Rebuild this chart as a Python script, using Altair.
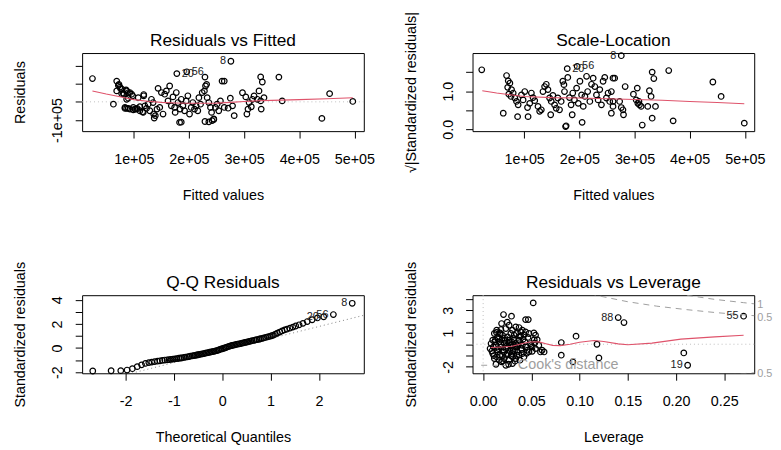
import altair as alt
import pandas as pd

FONT = "Liberation Sans"
RED = "#DF536B"
DOTGRAY = "#BEBEBE"
QQGRAY = "#808080"
COOK = "#9E9E9E"
W, H = 285, 79

# ---------------- Residuals vs Fitted (values in units of 1e+05) ----------------
rvf_fitted = [0.25, 0.63, 0.69, 0.73, 0.75, 0.79, 0.87, 0.82, 0.93, 0.98, 0.90, 0.78, 0.84, 0.87, 0.93,
              0.99, 1.05, 1.08, 1.11, 1.16, 1.18, 1.20, 1.23, 1.26, 1.29, 1.32, 1.35, 1.36, 1.39, 1.42,
              1.44, 1.47, 1.50, 1.53, 1.56, 1.59, 1.62, 1.65, 1.68, 1.71, 1.74, 1.75, 1.77, 1.78, 1.80,
              1.83, 1.84, 1.86, 1.89, 1.92, 1.96, 1.95, 1.98, 2.01, 2.04, 2.07, 2.10, 2.13, 2.16, 2.18,
              2.21, 2.24, 2.28, 2.29, 2.30, 2.32, 2.33, 2.36, 2.39, 2.41, 2.42, 2.45, 2.48, 2.51, 2.54,
              2.57, 2.60, 0.72, 0.76, 0.69, 0.81, 0.86, 0.90, 0.96, 0.87, 0.84, 0.90, 0.99, 1.02, 1.06,
              1.11, 1.17, 1.18, 1.86, 2.29, 2.36, 2.45, 1.37, 2.76, 2.64, 2.75, 2.82, 2.71, 2.64, 2.79,
              2.97, 3.03, 3.05, 3.07, 3.09, 3.13, 3.15, 3.18, 3.24, 3.27, 3.30, 3.33, 3.30, 3.31, 3.36,
              3.63, 3.69, 4.41, 4.55, 4.97]
rvf_resid = [1.28, -0.13, 1.14, 0.96, 0.81, 0.69, 0.60, 0.42, 0.51, 0.33, 0.20, 0.45, -0.31, -0.36, -0.40,
             -0.31, -0.40, 0.23, -0.27, -0.55, 0.33, -0.22, -0.36, -0.13, -0.49, 0.14, -0.04, -0.67, -0.76, -0.40,
             0.74, -0.31, 0.51, -0.67, 0.42, 0.60, 0.05, 0.87, -0.22, 0.27, -0.31, -0.58, 0.51, 1.55, -0.04,
             -1.13, -0.40, 0.14, -0.22, -0.49, 1.65, 0.05, 0.33, -0.67, -0.31, -0.04, -0.40, -0.22, -0.49, 0.23,
             -0.13, 0.51, 0.60, 1.36, 0.87, 0.96, 0.23, -0.04, -0.31, -0.58, -1.03, -0.94, -0.31, -0.13, -0.49,
             0.05, 1.14, 0.90, 0.72, 0.60, 0.47, 0.65, 0.51, 0.42, 0.14, -0.36, -0.36, -0.44, -0.40, -0.36,
             -0.49, -0.58, 0.40, -1.12, -1.08, -1.10, -0.97, -0.89, 2.23, 1.14, 0.20, -0.76, -0.35, -0.31, -0.22,
             0.50, 0.27, -0.67, -0.40, -0.04, -0.27, 0.14, 0.32, 0.14, 0.60, 1.37, 1.09, 0.05, -0.40, 0.23,
             1.36, 0.05, -0.91, 0.45, 0.02]
rvf_smooth_x = [0.25, 0.5, 0.75, 1.0, 1.25, 1.5, 1.75, 2.0, 2.25, 2.5, 2.75, 3.0, 3.25, 3.5, 4.0, 4.5, 4.97]
rvf_smooth_y = [0.60, 0.43, 0.28, 0.12, 0.03, -0.03, -0.06, -0.08, -0.08, -0.07, -0.03, 0.02, 0.06, 0.08, 0.12, 0.17, 0.22]
rvf_lab_x = [1.78, 1.96, 2.76]
rvf_lab_y = [1.55, 1.65, 2.23]
rvf_lab_t = ["20", "56", "8"]
rvf_lab_side = ["right", "right", "left"]

# ---------------- Scale-Location ----------------
sl_fitted = [0.23, 0.62, 0.68, 0.71, 0.74, 0.70, 0.77, 0.80, 0.83, 0.76, 0.72, 0.86, 0.89, 0.95, 0.98,
             1.01, 1.06, 1.07, 1.10, 1.13, 1.16, 1.19, 1.25, 1.28, 1.31, 1.34, 1.37, 1.40, 1.43, 1.46,
             1.49, 1.52, 1.55, 1.58, 1.61, 1.64, 1.67, 1.70, 1.72, 1.73, 1.75, 1.76, 1.78, 1.79, 1.82,
             1.85, 1.87, 1.88, 1.91, 1.95, 1.98, 2.01, 2.04, 2.07, 2.10, 2.13, 2.15, 2.19, 2.22, 2.25,
             2.28, 2.31, 2.34, 2.37, 2.40, 2.43, 2.46, 2.49, 2.52, 2.55, 2.58, 2.61, 1.96, 2.76, 2.05,
             2.64, 2.83, 2.58, 2.98, 3.05, 3.03, 3.06, 3.09, 3.12, 3.08, 2.61, 2.73, 2.76, 2.79, 2.80,
             2.61, 3.14, 3.24, 3.27, 3.30, 3.32, 3.35, 3.32, 3.38, 3.62, 3.70, 4.42, 4.57, 4.99, 0.88, 1.48]
sl_sqrt = [1.56, 0.42, 1.41, 1.27, 1.21, 1.10, 1.04, 0.95, 0.82, 0.86, 0.92, 0.73, 0.64, 0.90, 0.77,
           0.99, 0.57, 0.33, 0.68, 0.95, 0.83, 0.75, 0.60, 0.47, 0.51, 0.99, 1.12, 1.18, 1.04, 0.82,
           0.73, 0.89, 0.64, 0.55, 0.82, 0.51, 0.73, 1.26, 1.17, 0.99, 0.07, 0.09, 1.59, 1.36, 0.83,
           0.64, 0.38, 0.95, 0.77, 1.08, 0.68, 1.26, 0.90, 0.60, 0.86, 1.39, 0.99, 0.73, 1.18, 1.34,
           1.12, 0.90, 0.77, 1.04, 0.64, 1.26, 1.36, 0.82, 0.95, 0.73, 0.42, 1.34, 1.65, 1.93, 0.18,
           1.34, 1.12, 0.99, 0.92, 1.08, 0.77, 0.68, 0.64, 0.60, 0.73, 0.73, 0.73, 0.57, 0.51, 0.38,
           0.60, 0.11, 0.60, 1.01, 0.86, 1.50, 1.33, 0.29, 0.60, 1.54, 0.22, 1.24, 0.86, 0.16, 0.33, 0.38]
sl_smooth_x = [0.24, 0.5, 1.0, 1.5, 2.0, 2.5, 3.0, 3.5, 4.0, 4.5, 4.99]
sl_smooth_y = [1.01, 0.95, 0.86, 0.83, 0.82, 0.80, 0.78, 0.76, 0.73, 0.70, 0.67]
sl_lab_x = [1.78, 1.96, 2.76]
sl_lab_y = [1.59, 1.65, 1.93]
sl_lab_t = ["20", "56", "8"]
sl_lab_side = ["right", "right", "left"]

# ---------------- Q-Q Residuals ----------------
qq_theoretical = [-2.68, -2.30, -2.10, -1.97, -1.86, -1.76, -1.67, -1.59, -1.52, -1.46, -1.40, -1.34, -1.29,
                  -1.24, -1.19, -1.14, -1.10, -1.06, -1.02, -0.98, -0.94, -0.90, -0.86, -0.83, -0.79, -0.76,
                  -0.72, -0.69, -0.66, -0.62, -0.59, -0.56, -0.53, -0.50, -0.47, -0.44, -0.41, -0.38, -0.35,
                  -0.32, -0.29, -0.26, -0.23, -0.20, -0.17, -0.14, -0.11, -0.08, -0.06, -0.03, 0.00, 0.03,
                  0.06, 0.08, 0.11, 0.14, 0.17, 0.20, 0.23, 0.26, 0.29, 0.32, 0.35, 0.38, 0.41, 0.44, 0.47,
                  0.50, 0.53, 0.56, 0.59, 0.62, 0.66, 0.69, 0.72, 0.76, 0.79, 0.83, 0.86, 0.90, 0.94, 0.98,
                  1.02, 1.06, 1.10, 1.14, 1.19, 1.24, 1.29, 1.34, 1.40, 1.46, 1.52, 1.59, 1.67, 1.76, 1.86,
                  1.97, 2.10, 2.30, 2.69]
qq_std_resid = [-1.91, -1.89, -1.88, -1.83, -1.72, -1.55, -1.40, -1.28, -1.21, -1.17, -1.13, -1.09, -1.06,
                -1.03, -1.00, -0.98, -0.96, -0.94, -0.92, -0.90, -0.88, -0.85, -0.83, -0.81, -0.78, -0.76,
                -0.73, -0.71, -0.68, -0.66, -0.63, -0.61, -0.58, -0.56, -0.53, -0.51, -0.48, -0.46, -0.43,
                -0.41, -0.38, -0.35, -0.32, -0.30, -0.27, -0.24, -0.21, -0.17, -0.14, -0.10, -0.06, -0.02,
                0.02, 0.06, 0.10, 0.14, 0.18, 0.21, 0.24, 0.27, 0.30, 0.32, 0.35, 0.37, 0.40, 0.43, 0.46,
                0.49, 0.52, 0.55, 0.58, 0.61, 0.64, 0.67, 0.70, 0.73, 0.77, 0.80, 0.84, 0.88, 0.92, 0.97,
                1.02, 1.08, 1.15, 1.24, 1.33, 1.42, 1.50, 1.57, 1.65, 1.74, 1.83, 1.93, 2.05, 2.20, 2.35,
                2.50, 2.60, 2.78, 3.72]
qq_line_x = [-2.9, 2.93]
qq_line_y = [-3.12, 2.72]
qq_lab_x = [2.10, 2.30, 2.69]
qq_lab_y = [2.60, 2.78, 3.72]
qq_lab_t = ["20", "56", "8"]
qq_lab_side = ["left", "left", "left"]

# ---------------- Residuals vs Leverage ----------------
lev_h = [0.0519, 0.0211, 0.0294, 0.0440, 0.0468, 0.0191, 0.0269, 0.0338, 0.0184, 0.0235, 0.0304, 0.0372,
         0.0406, 0.0440, 0.0116, 0.0150, 0.0201, 0.0253, 0.0321, 0.0389, 0.0423, 0.0475, 0.0526, 0.0543,
         0.0560, 0.0082, 0.0099, 0.0133, 0.0167, 0.0184, 0.0218, 0.0235, 0.0269, 0.0287, 0.0311, 0.0338,
         0.0355, 0.0372, 0.0406, 0.0433, 0.0458, 0.0492, 0.0509, 0.0536, 0.0577, 0.0594, 0.0611, 0.0475,
         0.0509, 0.0543, 0.0099, 0.0150, 0.0201, 0.0253, 0.0304, 0.0372, 0.0406, 0.0116, 0.0167, 0.0218,
         0.0269, 0.0338, 0.0133, 0.0201, 0.0235, 0.0263, 0.0304, 0.0160, 0.0106, 0.0297, 0.0072, 0.0355,
         0.0228, 0.0287, 0.0140, 0.0174, 0.0389, 0.0242, 0.0321, 0.0423, 0.0126, 0.0160, 0.0194, 0.0263,
         0.0297, 0.0331, 0.0365, 0.0399, 0.0440, 0.0208, 0.0174, 0.0140, 0.0184, 0.0245, 0.0280, 0.0348,
         0.0382, 0.0120, 0.0145, 0.0178, 0.0215, 0.0225, 0.0258, 0.0275, 0.0290, 0.0315, 0.0325, 0.0345,
         0.0360, 0.0378, 0.0395, 0.0415, 0.0450, 0.0465, 0.0500, 0.0530, 0.0090, 0.0110, 0.0138, 0.0190,
         0.0250, 0.0330,
         0.0963, 0.118, 0.120, 0.093, 0.140, 0.146, 0.208, 0.212, 0.270, 0.081, 0.081, 0.0632]
lev_std_resid = [3.66, 2.63, 2.48, 2.18, 2.18, 1.83, 1.68, 1.54, 1.30, 1.39, 1.24, 1.48,
                 1.24, 1.09, 0.95, 0.65, 0.80, 0.65, 0.80, 0.71, 0.80, 0.95, 1.00, 0.80,
                 0.41, 0.06, 0.36, -0.09, 0.21, -0.23, 0.06, -0.38, 0.36, -0.09, -0.53, 0.06,
                 -0.23, 0.36, -0.09, 0.21, -0.53, 0.06, -0.23, 0.12, -0.09, -0.68, -0.53, -0.68,
                 -0.62, -0.38, -0.82, -0.68, -0.97, -0.82, -1.12, -0.97, -0.82, -1.27, -1.41, -1.27,
                 -1.41, -1.27, -1.77, -1.47, -1.86, -1.77, -1.71, -0.38, -0.23, -0.82, -0.38, -0.68,
                 0.36, 0.95, 1.24, 1.00, 1.09, -0.97, 0.36, -1.12, 0.36, 0.50, 0.41, 0.06,
                 0.21, -0.23, 0.06, -0.47, -0.23, -0.53, -0.97, -1.12, -0.03, -0.15, -0.62, -0.97,
                 -1.41, 0.20, -0.50, 0.90, -0.70, 0.55, -0.30, 0.15, -1.00, 0.50, -0.60, 0.95,
                 -0.10, 0.70, -0.35, 0.45, -0.80, 0.60, -0.10, 0.40, -0.60, -1.00, 1.05, -1.55,
                 1.95, -1.50,
                 0.71, 0.00, -1.21, -1.56, 2.36, 1.92, -0.77, -1.86, 2.48, 0.15, -0.97, -0.68]
lev_smooth_x = [0.008, 0.02, 0.03, 0.04, 0.048, 0.058, 0.065, 0.072, 0.08, 0.09, 0.10, 0.115, 0.125,
                0.14, 0.15, 0.175, 0.205, 0.24, 0.27]
lev_smooth_y = [-0.29, -0.24, -0.18, 0.05, 0.20, 0.21, 0.05, -0.10, -0.12, 0.00, 0.17, 0.33, 0.25,
                0.03, -0.05, 0.10, 0.45, 0.65, 0.80]
cook05_h = [0.10, 0.12, 0.15, 0.18, 0.21, 0.24, 0.27, 0.285]
cook05_up = [4.74, 4.28, 3.76, 3.37, 3.07, 2.81, 2.60, 2.50]
cook05_low = [-4.74, -4.28, -3.76, -3.37, -3.07, -2.81, -2.60, -2.50]
cook1_h = [0.20, 0.21, 0.24, 0.27, 0.285]
cook1_up = [4.47, 4.35, 3.97, 3.68, 3.54]
cook_tag_y = [3.45, 2.35, -2.62]
cook_tag_t = ["1", "0.5", "0.5"]
lev_lab_x = [0.140, 0.270, 0.212]
lev_lab_y = [2.36, 2.48, -1.86]
lev_lab_t = ["88", "55", "19"]
lev_lab_side = ["left", "left", "left"]

panel_titles = ["Residuals vs Fitted", "Scale-Location", "Q-Q Residuals", "Residuals vs Leverage"]


def sc(domain):
    return alt.Scale(domain=domain, nice=False, zero=False)


def x_axis(values, expr, title):
    return alt.Axis(values=values, labelExpr=expr, title=title, labelBaseline="middle", labelAlign="center",
                    labelPadding=22, titleX=W / 2, titleY=65, titleBaseline="middle", titleAlign="center",
                    labelFlush=False, labelOverlap=False)


def y_axis(values, expr, title):
    return alt.Axis(values=values, labelExpr=expr, title=title, labelAngle=270, labelAlign="center",
                    labelBaseline="middle", labelPadding=17.5, titleX=-62, titleY=H / 2, titleAngle=270,
                    titleBaseline="middle", titleAlign="center", labelFlush=False, labelOverlap=False)


def title_mark(text):
    return alt.Chart(pd.DataFrame({"t": [text]})).mark_text(
        align="center", baseline="alphabetic", font=FONT, fontSize=17.5, color="black"
    ).encode(x=alt.value(W / 2), y=alt.value(-7), text="t:N")


def points(xs, ys, X, Y):
    df = pd.DataFrame({"x": xs, "y": ys})
    return alt.Chart(df).mark_point(shape="circle", filled=False, size=32, strokeWidth=1.2,
                                    color="black", opacity=1).encode(x=X, y=Y)


def smooth(xs, ys, X, Y):
    df = pd.DataFrame({"x": xs, "y": ys})
    return alt.Chart(df).mark_line(color=RED, strokeWidth=1.1, clip=True).encode(x=X, y=Y)


def id_labels(xs, ys, ts, sides, X, Y):
    df = pd.DataFrame({"x": xs, "y": ys, "t": ts, "side": sides})
    left = alt.Chart(df).transform_filter("datum.side == 'left'").mark_text(
        align="right", baseline="middle", dx=-5, font=FONT, fontSize=11, color="#222222").encode(x=X, y=Y, text="t:N")
    right = alt.Chart(df).transform_filter("datum.side == 'right'").mark_text(
        align="left", baseline="middle", dx=5, font=FONT, fontSize=11, color="#222222").encode(x=X, y=Y, text="t:N")
    return [left, right]


def hrule(X, Y, color=DOTGRAY):
    return alt.Chart(pd.DataFrame({"y": [0]})).mark_rule(color=color, strokeDash=[1, 3], strokeWidth=1).encode(y=Y)


# ---- panel 1
X1 = alt.X("x:Q", scale=sc([0.063, 5.17]), axis=x_axis([1, 2, 3, 4, 5], "datum.value + 'e+05'", "Fitted values"))
Y1 = alt.Y("y:Q", scale=sc([-1.61, 2.68]), axis=y_axis([-1, 0, 1, 2], "datum.value == -1 ? '-1e+05' : ''", "Residuals"))
p1 = alt.layer(
    hrule(X1, Y1),
    points(rvf_fitted, rvf_resid, X1, Y1),
    smooth(rvf_smooth_x, rvf_smooth_y, X1, Y1),
    *id_labels(rvf_lab_x, rvf_lab_y, rvf_lab_t, rvf_lab_side, X1, Y1),
    title_mark(panel_titles[0]),
).properties(width=W, height=H)

# ---- panel 2
X2 = alt.X("x:Q", scale=sc([0.063, 5.17]), axis=x_axis([1, 2, 3, 4, 5], "datum.value + 'e+05'", "Fitted values"))
Y2 = alt.Y("y:Q", scale=sc([-0.05, 2.0]),
           axis=y_axis([0, 0.5, 1, 1.5], "datum.value == 0 ? '0.0' : (datum.value == 1 ? '1.0' : '')",
                       "\u221a|Standardized residuals|"))
p2 = alt.layer(
    points(sl_fitted, sl_sqrt, X2, Y2),
    smooth(sl_smooth_x, sl_smooth_y, X2, Y2),
    *id_labels(sl_lab_x, sl_lab_y, sl_lab_t, sl_lab_side, X2, Y2),
    title_mark(panel_titles[1]),
).properties(width=W, height=H)

# ---- panel 3
X3 = alt.X("x:Q", scale=sc([-2.9, 2.93]), axis=x_axis([-2, -1, 0, 1, 2], "'' + datum.value", "Theoretical Quantiles"))
Y3 = alt.Y("y:Q", scale=sc([-2.1, 4.39]),
           axis=y_axis([-2, -1, 0, 1, 2, 3, 4], "(datum.value % 2 == 0) ? ('' + datum.value) : ''",
                       "Standardized residuals"))
qq_line = alt.Chart(pd.DataFrame({"x": qq_line_x, "y": qq_line_y})).mark_line(
    color=QQGRAY, strokeDash=[1, 3], strokeWidth=1, clip=True).encode(x=X3, y=Y3)
p3 = alt.layer(
    qq_line,
    points(qq_theoretical, qq_std_resid, X3, Y3),
    *id_labels(qq_lab_x, qq_lab_y, qq_lab_t, qq_lab_side, X3, Y3),
    title_mark(panel_titles[2]),
).properties(width=W, height=H)

# ---- panel 4
X4 = alt.X("x:Q", scale=sc([-0.011, 0.281]),
           axis=x_axis([0, 0.05, 0.1, 0.15, 0.2, 0.25], "format(datum.value, '.2f')", "Leverage"))
Y4 = alt.Y("y:Q", scale=sc([-2.57, 4.34]),
           axis=y_axis([-2, -1, 0, 1, 2, 3, 4],
                       "datum.value == -2 ? '-2' : (datum.value == 1 ? '1' : (datum.value == 3 ? '3' : ''))",
                       "Standardized residuals"))
vrule = alt.Chart(pd.DataFrame({"x": [0]})).mark_rule(color=DOTGRAY, strokeDash=[1, 3]).encode(x=X4)
cook_a = alt.Chart(pd.DataFrame({"x": cook05_h, "y": cook05_up})).mark_line(
    color=COOK, strokeDash=[6, 5], strokeWidth=1, clip=True).encode(x=X4, y=Y4)
cook_b = alt.Chart(pd.DataFrame({"x": cook05_h, "y": cook05_low})).mark_line(
    color=COOK, strokeDash=[6, 5], strokeWidth=1, clip=True).encode(x=X4, y=Y4)
cook_c = alt.Chart(pd.DataFrame({"x": cook1_h, "y": cook1_up})).mark_line(
    color=COOK, strokeDash=[6, 5], strokeWidth=1, clip=True).encode(x=X4, y=Y4)
cook_tags = alt.Chart(pd.DataFrame({"x": [0.2841] * 3, "y": cook_tag_y, "t": cook_tag_t})).mark_text(
    align="left", baseline="middle", font=FONT, fontSize=11, color=COOK).encode(x=X4, y=Y4, text="t:N")
legend_seg = alt.Chart(pd.DataFrame({"x": [-0.002], "x2": [0.024], "y": [-1.86]})).mark_rule(
    color=COOK, strokeDash=[6, 5], strokeWidth=1).encode(x=X4, x2="x2:Q", y=Y4)
legend_txt = alt.Chart(pd.DataFrame({"x": [0.036], "y": [-1.86], "t": ["Cook's distance"]})).mark_text(
    align="left", baseline="middle", font=FONT, fontSize=14.5, color=COOK).encode(x=X4, y=Y4, text="t:N")
p4 = alt.layer(
    hrule(X4, Y4),
    vrule,
    points(lev_h, lev_std_resid, X4, Y4),
    smooth(lev_smooth_x, lev_smooth_y, X4, Y4),
    cook_a, cook_b, cook_c, cook_tags, legend_seg, legend_txt,
    *id_labels(lev_lab_x, lev_lab_y, lev_lab_t, lev_lab_side, X4, Y4),
    title_mark(panel_titles[3]),
).properties(width=W, height=H)

chart = alt.concat(p1, p2, p3, p4, columns=2, spacing={"row": 166, "column": 110}, bounds="flush").properties(
    padding={"left": 4, "top": 0, "right": 0, "bottom": 0}, background="white"
).configure_view(stroke="black", strokeWidth=1).configure_axis(
    domain=False, grid=False, tickColor="black", tickSize=7, tickWidth=1,
    labelFont=FONT, labelFontSize=14.5, labelColor="black",
    titleFont=FONT, titleFontSize=14.5, titleFontWeight="normal", titleColor="black",
)

chart.save("out.html", embed_options={"renderer": "svg", "actions": False})
